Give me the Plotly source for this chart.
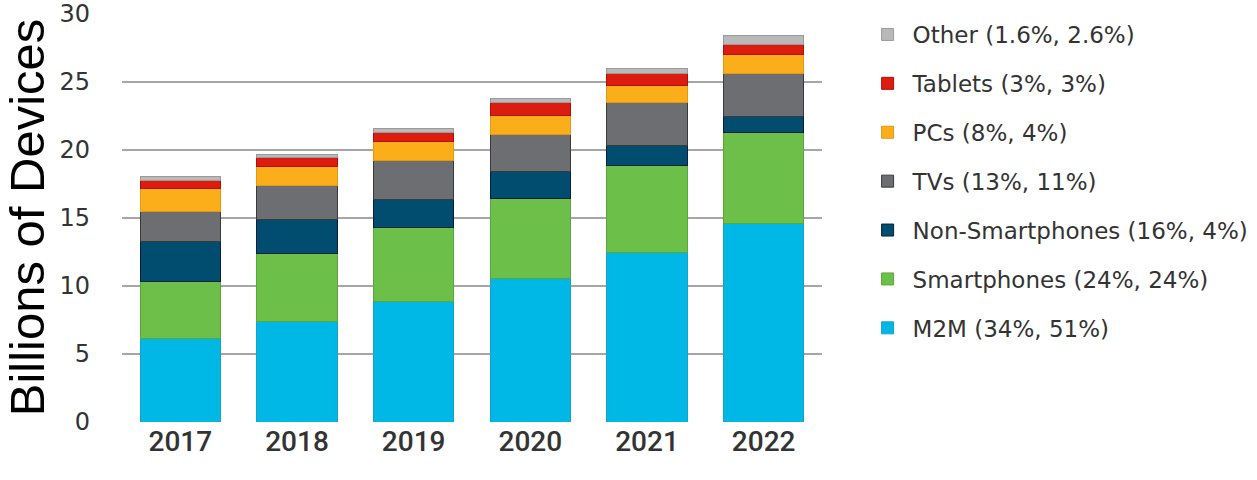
import plotly.graph_objects as go

years = ["2017", "2018", "2019", "2020", "2021", "2022"]
m2m = [6.15, 7.37, 8.85, 10.53, 12.43, 14.62]
smartphones = [4.2, 5.0, 5.45, 5.92, 6.4, 6.62]
non_smartphones = [2.9, 2.5, 2.07, 1.95, 1.47, 1.24]
tvs = [2.2, 2.5, 2.88, 2.7, 3.15, 3.16]
pcs = [1.7, 1.4, 1.33, 1.4, 1.27, 1.35]
tablets = [0.6, 0.64, 0.68, 0.95, 0.85, 0.77]
other = [0.3, 0.26, 0.34, 0.3, 0.43, 0.64]

series = [
    ("M2M (34%, 51%)", m2m, "#00B8E6", "#1a9fcf"),
    ("Smartphones (24%, 24%)", smartphones, "#6CC04A", "#5aa83c"),
    ("Non-Smartphones (16%, 4%)", non_smartphones, "#004D70", "#0a1f3a"),
    ("TVs (13%, 11%)", tvs, "#6D6E71", "#3a3a3a"),
    ("PCs (8%, 4%)", pcs, "#FBAE1A", "#e09a10"),
    ("Tablets (3%, 3%)", tablets, "#DD1C10", "#b01008"),
    ("Other (1.6%, 2.6%)", other, "#B9B9B9", "#9a9a9a"),
]

fig = go.Figure()
n = len(series)
for i, (name, vals, col, edge) in enumerate(series):
    fig.add_trace(go.Bar(
        x=years, y=vals, name=name,
        marker=dict(color=col, line=dict(color=edge, width=1)),
        legendgroup="g%d" % (n - i), legendrank=n - i,
    ))

fig.update_layout(
    width=1257, height=480,
    barmode="stack", bargap=0.31,
    plot_bgcolor="white", paper_bgcolor="white",
    margin=dict(l=122, r=435, t=13, b=58, autoexpand=False),
    font=dict(family="Roboto, Arial, sans-serif", color="#333333"),
    legend=dict(
        x=1.058, y=1.0, xanchor="left", yanchor="top",
        traceorder="grouped", tracegroupgap=16, itemwidth=40,
        maxheight=470,
        font=dict(size=23, color="#333333", family="DejaVu Sans, Arial, sans-serif"),
    ),
    yaxis=dict(
        range=[0, 30.05], tickvals=[0, 5, 10, 15, 20, 25, 30], showgrid=True,
        gridcolor="#A6A6A6", gridwidth=2,
        zeroline=False, showline=False,
        tickfont=dict(size=24, color="#333333", family="DejaVu Sans, Arial, sans-serif"),
        ticklabelstandoff=31, ticklabeloverflow="allow",
        title=dict(text="Billions of Devices",
                   font=dict(size=49, color="black", family="Liberation Sans, Arial, sans-serif"),
                   standoff=13),
    ),
    xaxis=dict(
        showgrid=False, showline=False,
        tickfont=dict(size=28, color="#333333", weight=500),
    ),
)

fig.write_html("out.html")
